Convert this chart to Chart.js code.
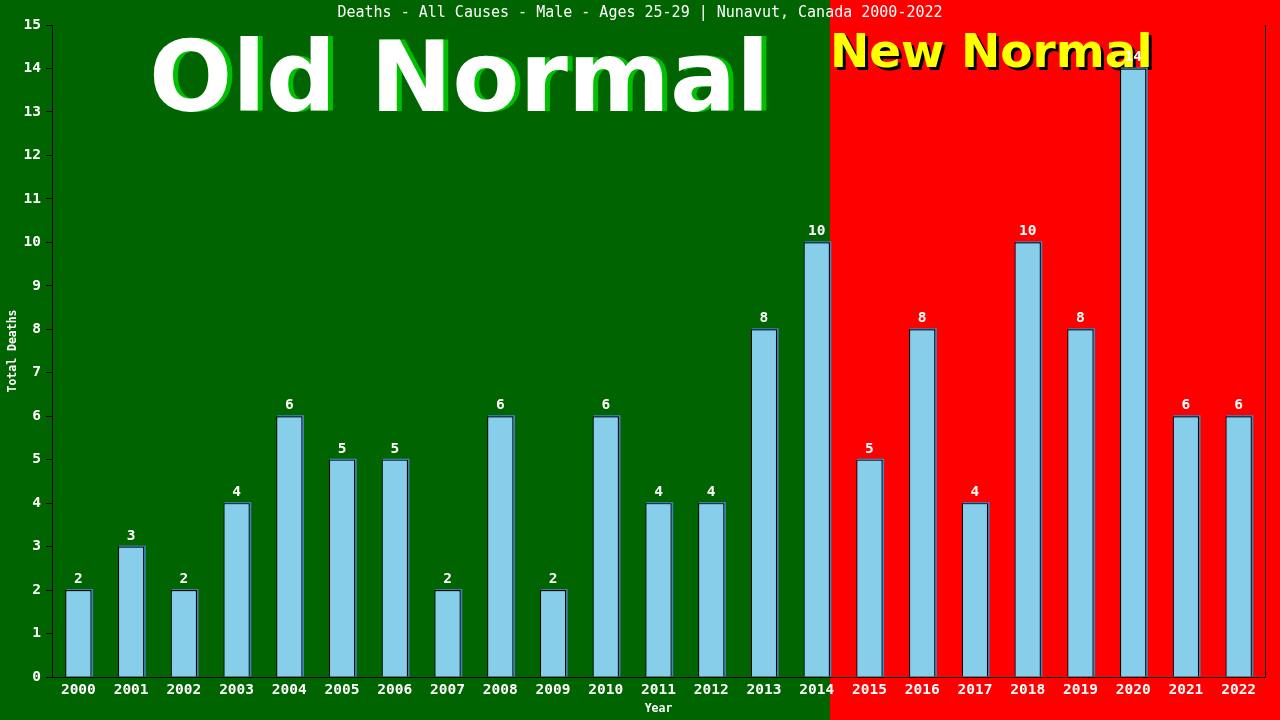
<!DOCTYPE html>
<html>
<head>
<meta charset="utf-8">
<script src="https://cdn.jsdelivr.net/npm/chart.js@4"></script>
<style>
html,body{margin:0;padding:0;background:#006400;}
#wrap{width:1280px;height:720px;}
</style>
</head>
<body>
<div id="wrap"><canvas id="c" width="1280" height="720"></canvas></div>
<script>
const years = ["2000","2001","2002","2003","2004","2005","2006","2007","2008","2009","2010","2011","2012","2013","2014","2015","2016","2017","2018","2019","2020","2021","2022"];
const deaths = [2,3,2,4,6,5,5,2,6,2,6,4,4,8,10,5,8,4,10,8,14,6,6];
const yTicks = [0,1,2,3,4,5,6,7,8,9,10,11,12,13,14,15];
const titleText = "Deaths - All Causes - Male - Ages 25-29 | Nunavut, Canada 2000-2022";
const newNormalStart = "2015";

const MONO = '"DejaVu Sans Mono", monospace';
const SANSB = '"DejaVu Sans", sans-serif';

const bgPlugin = {
  id: 'bg',
  beforeDraw(chart) {
    const {ctx} = chart;
    const W = chart.width, H = chart.height;
    const idx = years.indexOf(newNormalStart);
    const meta = chart.getDatasetMeta(0);
    const prev = meta.data[idx-1];
    const splitX = prev.x + prev.width/2;
    ctx.save();
    ctx.fillStyle = '#006400';
    ctx.fillRect(0,0,W,H);
    ctx.fillStyle = '#ff0000';
    ctx.fillRect(splitX,0,W-splitX,H);
    ctx.fillStyle = '#ffffff';
    ctx.font = '15px ' + MONO;
    ctx.textAlign = 'center';
    ctx.textBaseline = 'middle';
    ctx.fillText(titleText, 640, 13);
    ctx.font = 'bold 11.5px ' + MONO;
    ctx.fillText('Year', (chart.chartArea.left+chart.chartArea.right)/2, 709);
    ctx.save();
    ctx.translate(13, (chart.chartArea.top+chart.chartArea.bottom)/2);
    ctx.rotate(-Math.PI/2);
    ctx.fillText('Total Deaths', 0, 0);
    ctx.restore();
    ctx.textAlign = 'left';
    ctx.textBaseline = 'alphabetic';
    ctx.font = 'bold 98px ' + SANSB;
    ctx.fillStyle = '#00c000';
    ctx.fillText('Old Normal', 154, 111);
    ctx.fillStyle = '#ffffff';
    ctx.fillText('Old Normal', 149, 111);
    ctx.font = 'bold 47px ' + SANSB;
    ctx.fillStyle = '#000000';
    ctx.fillText('New Normal', splitX+3, 70);
    ctx.fillStyle = '#ffff00';
    ctx.fillText('New Normal', splitX, 67);
    ctx.strokeStyle = '#000';
    ctx.lineWidth = 1;
    ctx.beginPath();
    ctx.moveTo(chart.chartArea.right+0.5, chart.chartArea.top);
    ctx.lineTo(chart.chartArea.right+0.5, chart.chartArea.bottom);
    ctx.stroke();
    ctx.restore();
  },
  beforeDatasetsDraw(chart) {
    const {ctx} = chart;
    const meta = chart.getDatasetMeta(0);
    ctx.save();
    ctx.fillStyle = '#4682b4';
    meta.data.forEach(b => {
      const l = b.x - b.width/2;
      ctx.fillRect(l+1, b.y-1, b.width+0.5, b.base - b.y + 1);
    });
    ctx.restore();
  },
  afterDatasetsDraw(chart) {
    const {ctx} = chart;
    const meta = chart.getDatasetMeta(0);
    ctx.save();
    ctx.fillStyle = '#ffffff';
    ctx.font = 'bold 14.5px ' + MONO;
    ctx.textAlign = 'center';
    ctx.textBaseline = 'alphabetic';
    meta.data.forEach((b,i) => {
      ctx.fillText(String(deaths[i]), b.x, b.y - 7);
    });
    ctx.restore();
  }
};

new Chart(document.getElementById('c'), {
  type: 'bar',
  data: {
    labels: years,
    datasets: [{
      data: deaths,
      backgroundColor: '#87ceeb',
      borderColor: '#000000',
      borderWidth: 1.2,
      barPercentage: 0.5,
      categoryPercentage: 1.0
    }]
  },
  options: {
    responsive: false,
    animation: false,
    layout: { padding: { top: 25, right: 15, left: 0, bottom: 0 } },
    plugins: { legend: { display: false }, tooltip: { enabled: false } },
    scales: {
      x: {
        afterFit(s){ s.height = 43; },
        grid: { display: false, drawOnChartArea: false, drawTicks: false },
        border: { display: true, color: '#000', width: 1 },
        ticks: { color: '#fff', font: { family: MONO, size: 14.5, weight: 'bold' }, padding: 5, maxRotation: 0, autoSkip: false }
      },
      y: {
        min: 0, max: 15,
        afterFit(s){ s.width = 52; },
        afterBuildTicks(s){ s.ticks = yTicks.map(v => ({value: v})); },
        grid: { drawOnChartArea: false, color: '#000', tickLength: 6, lineWidth: 1 },
        border: { display: true, color: '#000', width: 1 },
        ticks: { color: '#fff', font: { family: MONO, size: 14.5, weight: 'bold' }, padding: 5 }
      }
    }
  },
  plugins: [bgPlugin]
});
</script>
</body>
</html>
